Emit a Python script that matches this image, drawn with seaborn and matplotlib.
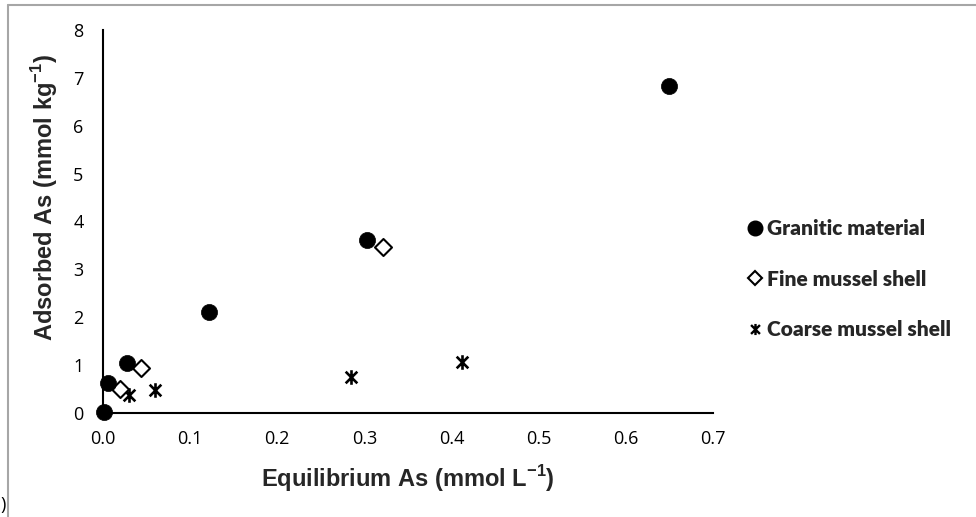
import numpy as np
import pandas as pd
import matplotlib
matplotlib.use("Agg")
import matplotlib.pyplot as plt
from matplotlib.path import Path
from matplotlib.lines import Line2D
import seaborn as sns

# Adsorption isotherm data: equilibrium As (mmol/L) vs adsorbed As (mmol/kg)
granitic_x = [0.001, 0.006, 0.027, 0.122, 0.303, 0.650]
granitic_y = [0.02, 0.62, 1.05, 2.10, 3.62, 6.83]

fine_x = [0.020, 0.044, 0.321]
fine_y = [0.50, 0.94, 3.46]

coarse_x = [0.030, 0.060, 0.285, 0.412]
coarse_y = [0.38, 0.47, 0.75, 1.07]

series_names = ["Granitic material", "Fine mussel shell", "Coarse mussel shell"]
x_ticks = [0.0, 0.1, 0.2, 0.3, 0.4, 0.5, 0.6, 0.7]
y_ticks = [0, 1, 2, 3, 4, 5, 6, 7, 8]

sns.set_theme(style="white")
plt.rcParams["font.family"] = ["Open Sans", "DejaVu Sans"]
plt.rcParams["mathtext.fontset"] = "custom"
plt.rcParams["mathtext.rm"] = "Liberation Sans"
plt.rcParams["mathtext.bf"] = "Liberation Sans:bold"

# asterisk-style marker: vertical bar plus two diagonals
star_path = Path(
    [(0, -1), (0, 1), (-0.8, -0.8), (0.8, 0.8), (-0.8, 0.8), (0.8, -0.8)],
    [Path.MOVETO, Path.LINETO, Path.MOVETO, Path.LINETO, Path.MOVETO, Path.LINETO],
)

fig = plt.figure(figsize=(9.76, 5.17), dpi=100)
ax = fig.add_axes([103 / 976, 1 - 413 / 517, 610 / 976, 383 / 517])

df_g = pd.DataFrame({"x": granitic_x, "y": granitic_y})
df_f = pd.DataFrame({"x": fine_x, "y": fine_y})
df_c = pd.DataFrame({"x": coarse_x, "y": coarse_y})

sns.scatterplot(data=df_c, x="x", y="y", ax=ax, marker=star_path, s=110,
                color="black", edgecolor="black", linewidth=1.9, zorder=3)
sns.scatterplot(data=df_f, x="x", y="y", ax=ax, marker="D", s=75,
                facecolor="white", edgecolor="black", linewidth=1.5, zorder=4)
sns.scatterplot(data=df_g, x="x", y="y", ax=ax, marker="o", s=135,
                color="black", edgecolor="black", linewidth=0.5, zorder=5)

ax.set_xlim(0, 0.7)
ax.set_ylim(0, 8)
ax.set_xticks(x_ticks)
ax.set_xticklabels([f"{v:.1f}" for v in x_ticks])
ax.set_yticks(y_ticks)
ax.set_yticklabels([str(v) for v in y_ticks])
ax.tick_params(axis="both", length=0, labelsize=13, colors="black")
ax.tick_params(axis="x", pad=12)
ax.tick_params(axis="y", pad=14)
ax.grid(False)
for side in ["top", "right"]:
    ax.spines[side].set_visible(False)
for side in ["left", "bottom"]:
    ax.spines[side].set_color("black")
    ax.spines[side].set_linewidth(1.5)
for coll in ax.collections:
    coll.set_clip_on(False)

ax.set_xlabel(r"Equilibrium As (mmol L$^{\mathbf{-1}}$)", family="Liberation Sans",
              fontweight="bold", fontsize=17, labelpad=11)
ax.set_ylabel("")
fig.text(45 / 976, 1 - 197 / 517, r"Adsorbed As (mmol kg$^{\mathbf{-1}}$)",
         family="Liberation Sans", fontweight="bold", fontsize=17,
         rotation=90, ha="center", va="center")

handles = [
    Line2D([], [], linestyle="none", marker="o", markersize=10.5,
           markerfacecolor="black", markeredgecolor="black"),
    Line2D([], [], linestyle="none", marker="D", markersize=7,
           markerfacecolor="white", markeredgecolor="black", markeredgewidth=1.5),
    Line2D([], [], linestyle="none", marker=star_path, markersize=8,
           color="black", markeredgewidth=1.7),
]
fig.legend(handles, series_names, loc="upper left",
           bbox_to_anchor=(738 / 976, 1 - 209 / 517), frameon=False,
           prop={"family": "Lato", "weight": "heavy", "size": 15},
           handlelength=0.6, handletextpad=0.3, labelspacing=1.5, borderpad=0)

# frame around the figure
fig.add_artist(Line2D([8 / 976, 8 / 976], [0, 1 - 5 / 517], transform=fig.transFigure,
                      color="#a6a6a6", linewidth=1.5))
fig.add_artist(Line2D([8 / 976, 1], [1 - 5 / 517, 1 - 5 / 517], transform=fig.transFigure,
                      color="#a6a6a6", linewidth=1.5))
fig.text(0.0, 1 - 505 / 517, ")", fontsize=13, ha="left", va="center", color="black")

fig.savefig("out.png", dpi=100)
